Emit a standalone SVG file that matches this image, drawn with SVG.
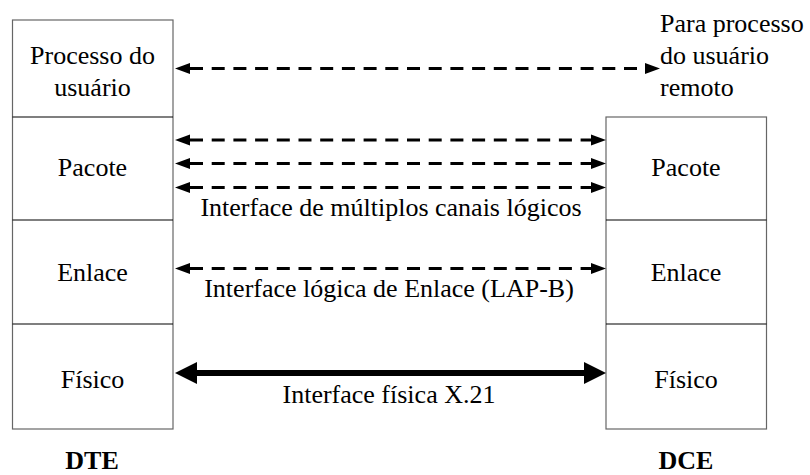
<svg xmlns="http://www.w3.org/2000/svg" width="810" height="475" viewBox="0 0 810 475" font-family="Liberation Serif, serif">
<style>
text{font-size:26px;fill:#000;text-anchor:middle}
.b{font-weight:bold}
.l{text-anchor:start}
.box{fill:#fff;stroke:#666;stroke-width:1.2}
.div{stroke:#000;stroke-width:1.2}
.dash{stroke:#000;stroke-width:3;stroke-dasharray:13 8.7;fill:none}
.thick{stroke:#000;stroke-width:6;fill:none}
</style>
<defs>
<marker id="ah" markerUnits="userSpaceOnUse" markerWidth="16" markerHeight="12" refX="0" refY="6" orient="auto-start-reverse" viewBox="0 0 16 12">
<path d="M0,0.5 L15,6 L0,11.5 z" fill="#000"/>
</marker>
<marker id="ahb" markerUnits="userSpaceOnUse" markerWidth="23" markerHeight="24" refX="0" refY="12" orient="auto-start-reverse" viewBox="0 0 23 24">
<path d="M0,1 L22,12 L0,23 z" fill="#000"/>
</marker>
</defs>
<g id="dte">
<rect class="box" x="12.5" y="20" width="160.5" height="409"/>
<line class="div" x1="12.5" y1="117" x2="173" y2="117"/>
<line class="div" x1="12.5" y1="220" x2="173" y2="220"/>
<line class="div" x1="12.5" y1="324" x2="173" y2="324"/>
<text x="92.5" y="64">Processo do</text>
<text x="92.5" y="96">usuário</text>
<text x="92.5" y="176">Pacote</text>
<text x="92.5" y="281">Enlace</text>
<text x="92.5" y="388">Físico</text>
<text class="b" x="92" y="469">DTE</text>
</g>
<g id="dce">
<rect class="box" x="606" y="117" width="160.5" height="312"/>
<line class="div" x1="606" y1="220" x2="766.5" y2="220"/>
<line class="div" x1="606" y1="324" x2="766.5" y2="324"/>
<text x="686" y="176">Pacote</text>
<text x="686" y="281">Enlace</text>
<text x="686" y="388">Físico</text>
<text class="b" x="686" y="469">DCE</text>
</g>
<g id="remote">
<text class="l" x="660" y="32">Para processo</text>
<text class="l" x="660" y="64">do usuário</text>
<text class="l" x="660" y="96">remoto</text>
</g>
<g id="connectors">
<line class="dash" x1="190" y1="68.5" x2="645" y2="68.5" marker-start="url(#ah)" marker-end="url(#ah)"/>
<line class="dash" x1="190" y1="140" x2="591" y2="140" marker-start="url(#ah)" marker-end="url(#ah)"/>
<line class="dash" x1="190" y1="163.5" x2="591" y2="163.5" marker-start="url(#ah)" marker-end="url(#ah)"/>
<line class="dash" x1="190" y1="187.5" x2="591" y2="187.5" marker-start="url(#ah)" marker-end="url(#ah)"/>
<line class="dash" x1="190" y1="268.5" x2="591" y2="268.5" marker-start="url(#ah)" marker-end="url(#ah)"/>
<line class="thick" x1="197" y1="373" x2="584" y2="373" marker-start="url(#ahb)" marker-end="url(#ahb)"/>
<text x="391" y="216">Interface de múltiplos canais lógicos</text>
<text x="389" y="297">Interface lógica de Enlace (LAP-B)</text>
<text x="389" y="403">Interface física X.21</text>
</g>
</svg>
